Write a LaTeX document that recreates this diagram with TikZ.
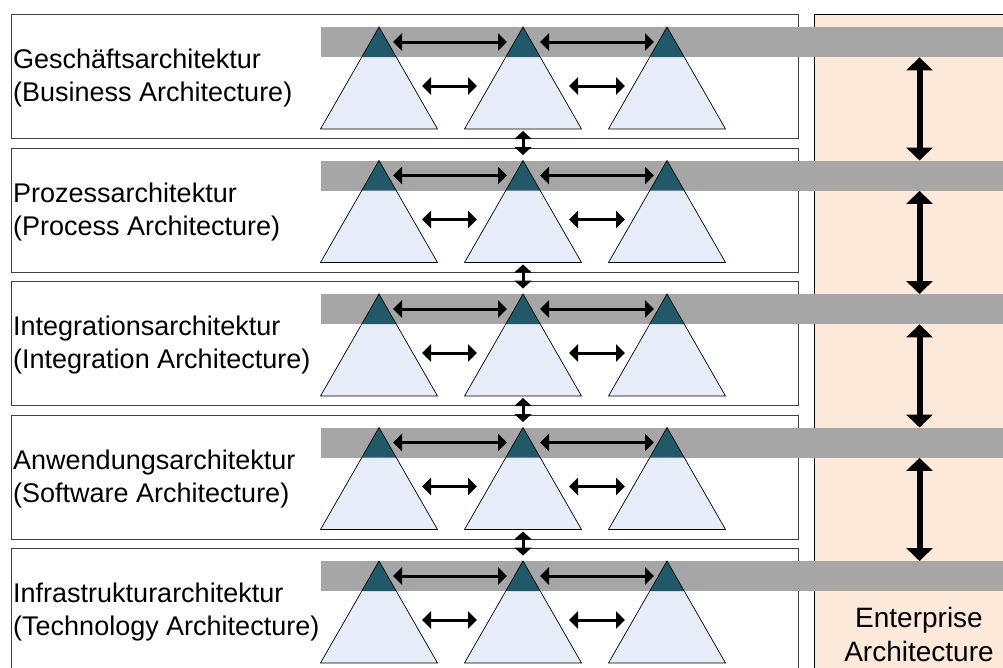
\documentclass[tikz,border=0pt]{standalone}
\usepackage{fontspec}
\setmainfont{Liberation Sans}
\usetikzlibrary{arrows.meta}

\definecolor{bandgray}{HTML}{A6A6A6}
\definecolor{tripale}{HTML}{E6EDF8}
\definecolor{tridark}{HTML}{215968}
\definecolor{eapeach}{HTML}{FCE9DA}

\begin{document}
\begin{tikzpicture}[x=1pt, y=-1pt,
                    layerbox/.style = {draw=black!75, fill=white, line width=1pt, inner sep=0pt,
                                       minimum width=787pt, minimum height=124pt, anchor=north west},
                    layertext/.style = {anchor=west, align=left, inner sep=0pt,
                                        font=\fontsize{27}{33}\selectfont},
                    eabox/.style = {draw=black, fill=eapeach, line width=1pt, inner sep=0pt,
                                    minimum width=210pt, minimum height=700pt, anchor=north west},
                    band/.style = {fill=bandgray, inner sep=0pt, minimum width=700pt,
                                   minimum height=30pt, anchor=north west},
                    hor/.style = {{Triangle[length=9pt,width=17pt]}-{Triangle[length=9pt,width=17pt]},
                                  line width=3pt},
                    ver/.style = {{Triangle[length=8pt,width=17pt]}-{Triangle[length=8pt,width=17pt]},
                                  line width=3pt},
                    big/.style = {{Triangle[length=13pt,width=26pt]}-{Triangle[length=13pt,width=26pt]},
                                  line width=6pt}
                   ]
   \useasboundingbox (0,0) rectangle (1003,667);
   \clip (0,0) rectangle (1003,667);

   \node[eabox] (ea) at (814,14) {};
   \node[align=center, inner sep=0pt, font=\fontsize{28}{34}\selectfont] (eatext) at (919,634)
        {Enterprise\\Architecture};

   \foreach \de/\en [count=\i] in {Geschäftsarchitektur/Business, Prozessarchitektur/Process,
                                   Integrationsarchitektur/Integration, Anwendungsarchitektur/Software,
                                   Infrastrukturarchitektur/Technology}{
     \pgfmathsetmacro{\t}{14+133.5*(\i-1)}
     \node[layerbox] (layer\i) at (11,\t) {};
     \node[layertext] (label\i) at ([xshift=2pt,yshift=-2pt]layer\i.west) {\de\\(\en{} Architecture)};
     \node[band] (band\i) at (321,\t+13) {};

     % three pyramids
     \foreach \x [count=\j] in {379,523,667}{
       \coordinate (apex\i\j) at (\x,\t+13);
       \fill[tripale] (apex\i\j) -- ++(-58.5,102) -- ++(117,0) -- cycle;
       \fill[tridark] (apex\i\j) -- ++(-17.2,30) -- ++(34.4,0) -- cycle;
       \draw[line width=.7pt] (apex\i\j) -- ++(-58.5,102) -- ++(117,0) -- cycle;
     }

     \draw[hor] ([xshift=14pt,yshift=-15pt]apex\i1) -- ([xshift=-16pt,yshift=-15pt]apex\i2);
     \draw[hor] ([xshift=17pt,yshift=-15pt]apex\i2) -- ([xshift=-13pt,yshift=-15pt]apex\i3);
     \draw[hor] ([xshift=43pt,yshift=-59pt]apex\i1) -- ([xshift=-46pt,yshift=-59pt]apex\i2);
     \draw[hor] ([xshift=46pt,yshift=-59pt]apex\i2) -- ([xshift=-42pt,yshift=-59pt]apex\i3);

     \ifnum\i>1
       \pgfmathtruncatemacro{\p}{\i-1}
       \draw[ver] ([yshift=-104pt]apex\p2) -- ([yshift=5.5pt]apex\i2);
       \draw[big] (band\p.south -| ea.center) -- (band\i.north -| ea.center);
     \fi
   }
\end{tikzpicture}
\end{document}
